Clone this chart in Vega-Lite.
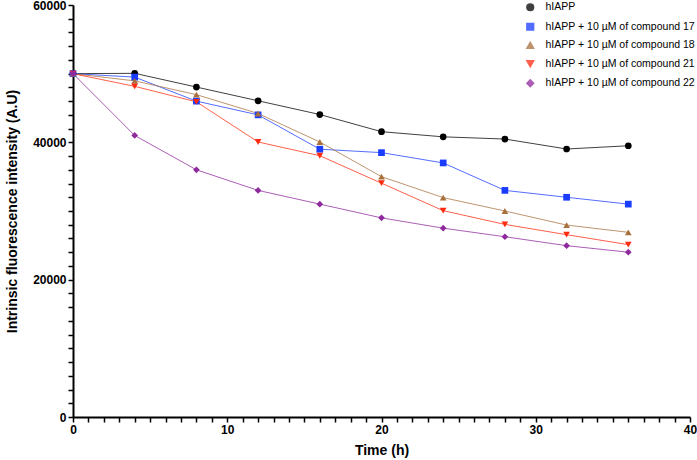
{
  "$schema": "https://vega.github.io/schema/vega-lite/v6.json",
  "width": 617,
  "height": 412,
  "autosize": {"type": "none"},
  "padding": {"left": 73, "top": 5, "right": 7, "bottom": 43},
  "config": {
    "view": {"stroke": null},
    "font": "Liberation Sans",
    "axis": {
      "grid": false,
      "domainColor": "#000000",
      "domainWidth": 2,
      "tickColor": "#000000",
      "tickWidth": 1.5,
      "tickSize": 5,
      "labelColor": "#000000",
      "labelFont": "Liberation Sans",
      "labelFontWeight": "bold",
      "labelFontSize": 12,
      "labelPadding": 2,
      "titleColor": "#000000",
      "titleFont": "Liberation Sans",
      "titleFontWeight": "bold",
      "titleFontSize": 14
    },
    "legend": {
      "orient": "none",
      "legendX": 452,
      "legendY": -3,
      "padding": 0,
      "labelFont": "Liberation Sans",
      "labelFontSize": 10.5,
      "labelColor": "#000000",
      "rowPadding": 5.5,
      "symbolSize": 45,
      "labelOffset": 10,
      "labelLimit": 300
    }
  },
  "data": {
    "values": [
      {"t": 0, "v": 50000, "s": "hIAPP"},
      {"t": 4, "v": 50050, "s": "hIAPP"},
      {"t": 8, "v": 48050, "s": "hIAPP"},
      {"t": 12, "v": 46050, "s": "hIAPP"},
      {"t": 16, "v": 44050, "s": "hIAPP"},
      {"t": 20, "v": 41550, "s": "hIAPP"},
      {"t": 24, "v": 40800, "s": "hIAPP"},
      {"t": 28, "v": 40480, "s": "hIAPP"},
      {"t": 32, "v": 39030, "s": "hIAPP"},
      {"t": 36, "v": 39500, "s": "hIAPP"},
      {"t": 0, "v": 50000, "s": "hIAPP + 10 µM of compound 17"},
      {"t": 4, "v": 49500, "s": "hIAPP + 10 µM of compound 17"},
      {"t": 8, "v": 46000, "s": "hIAPP + 10 µM of compound 17"},
      {"t": 12, "v": 44000, "s": "hIAPP + 10 µM of compound 17"},
      {"t": 16, "v": 39000, "s": "hIAPP + 10 µM of compound 17"},
      {"t": 20, "v": 38500, "s": "hIAPP + 10 µM of compound 17"},
      {"t": 24, "v": 37000, "s": "hIAPP + 10 µM of compound 17"},
      {"t": 28, "v": 33000, "s": "hIAPP + 10 µM of compound 17"},
      {"t": 32, "v": 32000, "s": "hIAPP + 10 µM of compound 17"},
      {"t": 36, "v": 31000, "s": "hIAPP + 10 µM of compound 17"},
      {"t": 0, "v": 50000, "s": "hIAPP + 10 µM of compound 18"},
      {"t": 4, "v": 48950, "s": "hIAPP + 10 µM of compound 18"},
      {"t": 8, "v": 46950, "s": "hIAPP + 10 µM of compound 18"},
      {"t": 12, "v": 44200, "s": "hIAPP + 10 µM of compound 18"},
      {"t": 16, "v": 40050, "s": "hIAPP + 10 µM of compound 18"},
      {"t": 20, "v": 35000, "s": "hIAPP + 10 µM of compound 18"},
      {"t": 24, "v": 31950, "s": "hIAPP + 10 µM of compound 18"},
      {"t": 28, "v": 30000, "s": "hIAPP + 10 µM of compound 18"},
      {"t": 32, "v": 27950, "s": "hIAPP + 10 µM of compound 18"},
      {"t": 36, "v": 26900, "s": "hIAPP + 10 µM of compound 18"},
      {"t": 0, "v": 50000, "s": "hIAPP + 10 µM of compound 21"},
      {"t": 4, "v": 48150, "s": "hIAPP + 10 µM of compound 21"},
      {"t": 8, "v": 45900, "s": "hIAPP + 10 µM of compound 21"},
      {"t": 12, "v": 40050, "s": "hIAPP + 10 µM of compound 21"},
      {"t": 16, "v": 38050, "s": "hIAPP + 10 µM of compound 21"},
      {"t": 20, "v": 34050, "s": "hIAPP + 10 µM of compound 21"},
      {"t": 24, "v": 30050, "s": "hIAPP + 10 µM of compound 21"},
      {"t": 28, "v": 28050, "s": "hIAPP + 10 µM of compound 21"},
      {"t": 32, "v": 26550, "s": "hIAPP + 10 µM of compound 21"},
      {"t": 36, "v": 25100, "s": "hIAPP + 10 µM of compound 21"},
      {"t": 0, "v": 50000, "s": "hIAPP + 10 µM of compound 22"},
      {"t": 4, "v": 41000, "s": "hIAPP + 10 µM of compound 22"},
      {"t": 8, "v": 36000, "s": "hIAPP + 10 µM of compound 22"},
      {"t": 12, "v": 33000, "s": "hIAPP + 10 µM of compound 22"},
      {"t": 16, "v": 31000, "s": "hIAPP + 10 µM of compound 22"},
      {"t": 20, "v": 29000, "s": "hIAPP + 10 µM of compound 22"},
      {"t": 24, "v": 27500, "s": "hIAPP + 10 µM of compound 22"},
      {"t": 28, "v": 26250, "s": "hIAPP + 10 µM of compound 22"},
      {"t": 32, "v": 24950, "s": "hIAPP + 10 µM of compound 22"},
      {"t": 36, "v": 24000, "s": "hIAPP + 10 µM of compound 22"}
    ]
  },
  "encoding": {
    "x": {
      "field": "t", "type": "quantitative", "title": "Time (h)",
      "scale": {"domain": [0, 40], "nice": false, "zero": true},
      "axis": {
        "values": [0,1,2,3,4,5,6,7,8,9,10,11,12,13,14,15,16,17,18,19,20,21,22,23,24,25,26,27,28,29,30,31,32,33,34,35,36,37,38,39,40],
        "labelExpr": "datum.value % 10 == 0 ? datum.label : ''",
        "labelFlush": false,
        "labelOverlap": false,
        "titlePadding": 8,
        "encode": {
          "ticks": {
            "update": {
              "stroke": {"value": "#000000"},
              "strokeOpacity": {"value": 1},
              "opacity": {"value": 1},
              "strokeWidth": {"value": 1.5}
            }
          }
        }
      }
    },
    "y": {
      "field": "v", "type": "quantitative", "title": "Intrinsic fluorescence intensity (A.U)",
      "scale": {"domain": [0, 60000], "nice": false},
      "axis": {
        "values": [0,2000,4000,6000,8000,10000,12000,14000,16000,18000,20000,22000,24000,26000,28000,30000,32000,34000,36000,38000,40000,42000,44000,46000,48000,50000,52000,54000,56000,58000,60000],
        "labelExpr": "datum.value % 20000 == 0 ? datum.value : ''",
        "labelFlush": false,
        "labelOverlap": false,
        "titlePadding": 13,
        "encode": {
          "ticks": {
            "update": {
              "stroke": {"value": "#000000"},
              "strokeOpacity": {"value": 1},
              "opacity": {"value": 1},
              "strokeWidth": {"value": 1.5}
            }
          }
        }
      }
    },
    "color": {
      "field": "s", "type": "nominal", "title": null,
      "scale": {
        "domain": ["hIAPP", "hIAPP + 10 µM of compound 17", "hIAPP + 10 µM of compound 18", "hIAPP + 10 µM of compound 21", "hIAPP + 10 µM of compound 22"],
        "range": ["#000000", "#1a3cff", "#a8703c", "#ff2a10", "#8f2a9c"]
      }
    }
  },
  "layer": [
    {
      "mark": {"type": "line", "strokeWidth": 1, "opacity": 0.75}
    },
    {
      "mark": {"type": "point", "filled": true, "opacity": 1},
      "encoding": {
        "shape": {
          "field": "s", "type": "nominal", "title": null,
          "scale": {
            "domain": ["hIAPP", "hIAPP + 10 µM of compound 17", "hIAPP + 10 µM of compound 18", "hIAPP + 10 µM of compound 21", "hIAPP + 10 µM of compound 22"],
            "range": ["circle", "square", "triangle-up", "triangle-down", "diamond"]
          }
        },
        "size": {"value": 45}
      }
    }
  ]
}
